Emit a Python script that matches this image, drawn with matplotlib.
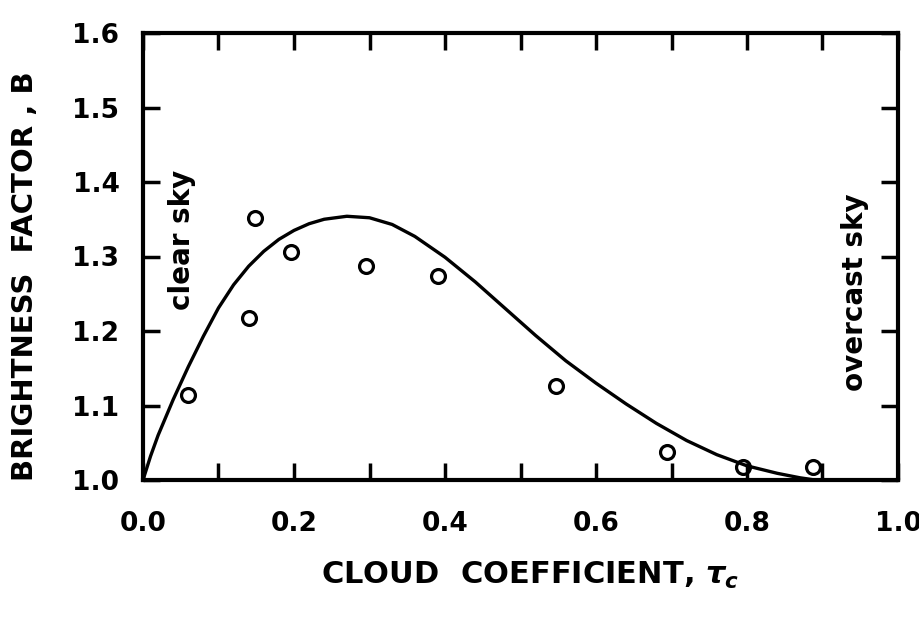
import matplotlib
matplotlib.use("Agg")
import matplotlib.pyplot as plt
from matplotlib.ticker import MultipleLocator, FormatStrFormatter

# Observed data points (cloud coefficient, brightness factor)
obs_x = [0.060, 0.141, 0.148, 0.196, 0.295, 0.391, 0.547, 0.694, 0.795, 0.888]
obs_y = [1.114, 1.218, 1.352, 1.306, 1.287, 1.274, 1.126, 1.037, 1.018, 1.018]

# Fitted curve
curve_x = [0.0, 0.01, 0.02, 0.04, 0.06, 0.08, 0.10, 0.12, 0.14, 0.16,
           0.18, 0.20, 0.22, 0.24, 0.27, 0.30, 0.33, 0.36, 0.40, 0.44,
           0.48, 0.52, 0.56, 0.60, 0.64, 0.68, 0.72, 0.76, 0.80, 0.84,
           0.87, 0.89]
curve_y = [1.000, 1.032, 1.060, 1.108, 1.152, 1.193, 1.231, 1.262, 1.287, 1.307,
           1.323, 1.335, 1.344, 1.350, 1.354, 1.352, 1.343, 1.327, 1.299, 1.266,
           1.230, 1.194, 1.160, 1.130, 1.102, 1.076, 1.053, 1.034, 1.019, 1.009,
           1.003, 1.000]

xlabel_text = r"CLOUD  COEFFICIENT, $\tau_c$"
ylabel_text = "BRIGHTNESS  FACTOR , B"

plt.rcParams['font.family'] = ['DejaVu Sans']
plt.rcParams['font.weight'] = 'bold'
plt.rcParams['mathtext.fontset'] = 'dejavusans'

fig = plt.figure(figsize=(9.2, 6.2), dpi=100)
ax = fig.add_axes([143/920, 140/620, 755/920, 447/620])

ax.plot(curve_x, curve_y, color='black', lw=2.4, solid_capstyle='round',
        solid_joinstyle='round')
ax.plot(obs_x, obs_y, 'o', ms=10, mfc='none', mec='black', mew=2.3, clip_on=False)

ax.set_xlim(0, 1.0)
ax.set_ylim(1.0, 1.6)

ax.xaxis.set_major_locator(MultipleLocator(0.2))
ax.xaxis.set_minor_locator(MultipleLocator(0.1))
ax.xaxis.set_major_formatter(FormatStrFormatter('%.1f'))
ax.yaxis.set_major_locator(MultipleLocator(0.1))
ax.yaxis.set_major_formatter(FormatStrFormatter('%.1f'))

for s in ax.spines.values():
    s.set_linewidth(3)

ax.tick_params(axis='both', which='both', direction='in', top=True, right=True,
               width=2.5, labelsize=19)
ax.tick_params(axis='both', which='major', length=12)
ax.tick_params(axis='x', which='minor', length=12)
ax.tick_params(axis='x', which='both', pad=22)
ax.tick_params(axis='y', which='both', pad=17)

ax.set_xlabel(xlabel_text, fontsize=22, fontweight='bold')
ax.xaxis.label.set_va('center')
ax.xaxis.set_label_coords(0.513, -0.2125)
ax.set_ylabel(ylabel_text, fontsize=21, fontweight='bold')
ax.yaxis.label.set_va('center')
ax.yaxis.set_label_coords(-0.156, 0.456)

ax.text(0.052, 1.322, "clear sky", rotation=90, fontsize=20, fontweight='bold',
        ha='center', va='center')
ax.text(0.943, 1.252, "overcast sky", rotation=90, fontsize=20, fontweight='bold',
        ha='center', va='center')

fig.savefig("out.png", dpi=100)
